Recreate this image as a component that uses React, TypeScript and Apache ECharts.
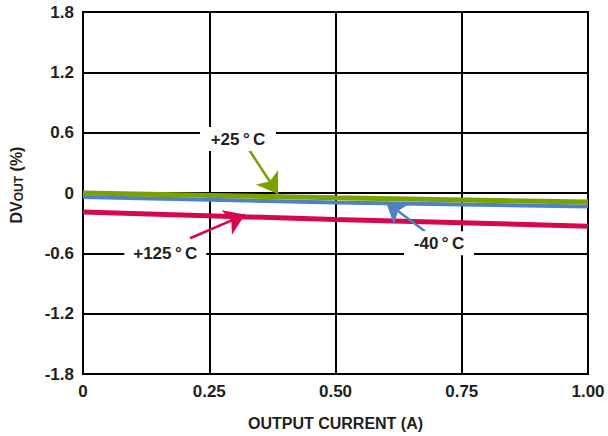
import React, { useEffect, useRef } from "react";
import * as echarts from "echarts";

const xValues = [0, 0.5, 1.0];
const green25 = [0.0, -0.047, -0.09];
const blueMinus40 = [-0.04, -0.094, -0.135];
const red125 = [-0.19, -0.263, -0.33];

const xTicks = ["0", "0.25", "0.50", "0.75", "1.00"];

const GREEN = "#7AA100";
const BLUE = "#4F82C3";
const RED = "#D6084C";
const TXT = "#231f20";
const FONT = "'Liberation Sans', Arial, sans-serif";

function pairs(ys: number[]) {
  return xValues.map((x, i) => [x, ys[i]]);
}

function labelPoint(coord: number[], text: string, w: number) {
  return {
    coord,
    symbol: "rect",
    symbolSize: [w, 24],
    itemStyle: { color: "#ffffff" },
    label: {
      show: true,
      position: "inside",
      formatter: text,
      color: TXT,
      fontWeight: "bold",
      fontSize: 17,
      fontFamily: FONT,
    },
  };
}

function arrow(color: string, from: number[], to: number[]) {
  return {
    silent: true,
    symbol: ["none", "arrow"],
    symbolSize: 20,
    animation: false,
    label: { show: false },
    lineStyle: { color, width: 2.5, type: "solid" },
    emphasis: { disabled: true },
    data: [[{ coord: from }, { coord: to }]],
  };
}

export default function App() {
  const ref = useRef<HTMLDivElement>(null);
  useEffect(() => {
    if (!ref.current) return;
    const chart = echarts.init(ref.current, undefined, { renderer: "svg" });
    chart.setOption({
      animation: false,
      backgroundColor: "#ffffff",
      grid: {
        left: 83,
        right: 20,
        top: 12,
        bottom: 60,
        show: true,
        borderColor: "#000",
        borderWidth: 2,
        backgroundColor: "transparent",
      },
      xAxis: {
        type: "value",
        min: 0,
        max: 1,
        interval: 0.25,
        axisLine: { show: true, lineStyle: { color: "#000", width: 2 } },
        axisTick: { show: false },
        splitLine: { show: true, lineStyle: { color: "#000", width: 2 } },
        axisLabel: {
          color: TXT,
          fontWeight: "bold",
          fontSize: 17,
          fontFamily: FONT,
          margin: 9,
          formatter: (v: number) => xTicks[Math.round(v / 0.25)] ?? "",
        },
        name: "OUTPUT CURRENT (A)",
        nameLocation: "middle",
        nameGap: 41,
        nameTextStyle: {
          color: TXT,
          fontWeight: "bold",
          fontSize: 16,
          fontFamily: FONT,
        },
      },
      yAxis: {
        type: "value",
        min: -1.8,
        max: 1.8,
        interval: 0.6,
        axisLine: { show: true, lineStyle: { color: "#000", width: 2 } },
        axisTick: { show: false },
        splitLine: { show: true, lineStyle: { color: "#000", width: 2 } },
        axisLabel: {
          color: TXT,
          fontWeight: "bold",
          fontSize: 17,
          fontFamily: FONT,
          margin: 9,
          formatter: (v: number) => {
            const r = Math.round(v * 10) / 10;
            return r === 0 ? "0" : r.toFixed(1);
          },
        },
        name: "{m|DV}{s|OUT}{m| (%)}",
        nameLocation: "middle",
        nameGap: 58,
        nameTextStyle: {
          padding: [0, 0, 0, 16],
          rich: {
            m: { color: TXT, fontWeight: "bold", fontSize: 16, fontFamily: FONT },
            s: {
              color: TXT,
              fontWeight: "bold",
              fontSize: 12,
              fontFamily: FONT,
              verticalAlign: "bottom",
              padding: [6, 0, 0, 0],
            },
          },
        },
      },
      series: [
        {
          type: "line",
          name: "+125°C",
          data: pairs(red125),
          symbol: "none",
          lineStyle: { color: RED, width: 5 },
          itemStyle: { color: RED },
          z: 3,
          markLine: arrow(RED, [0.212, -0.45], [0.321, -0.215]),
          markPoint: { data: [labelPoint([0.163, -0.6], "+125\u2009°\u2009C", 82)] },
        },
        {
          type: "line",
          name: "-40°C",
          data: pairs(blueMinus40),
          symbol: "none",
          lineStyle: { color: BLUE, width: 4 },
          itemStyle: { color: BLUE },
          z: 4,
          markLine: arrow(BLUE, [0.677, -0.38], [0.6, -0.09]),
          markPoint: { data: [labelPoint([0.705, -0.5], "-40\u2009°\u2009C", 70)] },
        },
        {
          type: "line",
          name: "+25°C",
          data: pairs(green25),
          symbol: "none",
          lineStyle: { color: GREEN, width: 5 },
          itemStyle: { color: GREEN },
          z: 5,
          markLine: arrow(GREEN, [0.325, 0.46], [0.386, -0.01]),
          markPoint: { data: [labelPoint([0.307, 0.537], "+25\u2009°\u2009C", 76)] },
        },
      ],
    });
    return () => chart.dispose();
  }, []);
  return (
    <div
      ref={ref}
      style={{ position: "fixed", left: 0, top: 0, width: 608, height: 436 }}
    />
  );
}
